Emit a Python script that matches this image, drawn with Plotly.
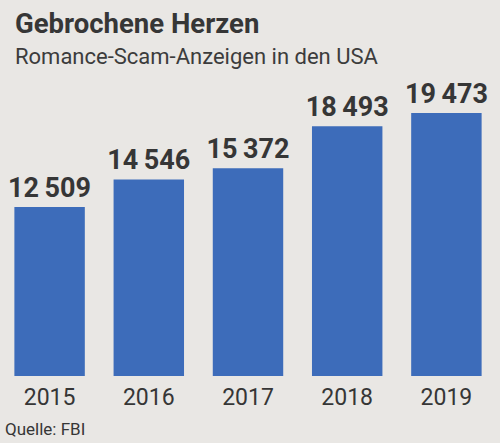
import plotly.graph_objects as go

years = ["2015", "2016", "2017", "2018", "2019"]
values = [12509, 14546, 15372, 18493, 19473]
value_labels = ["12\u2009509", "14\u2009546", "15\u2009372", "18\u2009493", "19\u2009473"]

title = "Gebrochene Herzen"
subtitle = "Romance-Scam-Anzeigen in den USA"
source = "Quelle: FBI"

bg = "#e9e7e4"
bar_color = "#3d6cba"
text_color = "#363636"

fig = go.Figure(go.Bar(
    x=years, y=values,
    marker=dict(color=bar_color, line=dict(width=0)),
    text=value_labels, textposition="outside",
    constraintext="none",
    textfont=dict(family="Roboto", size=27, color=text_color, weight="bold"),
    cliponaxis=False,
    hoverinfo="skip",
))

H_TOP, H_BOT = 100, 376
def py(p):
    return (H_BOT - p) / (H_BOT - H_TOP)

fig.update_layout(
    width=500, height=443,
    margin=dict(l=0, r=4, t=H_TOP, b=443 - H_BOT),
    paper_bgcolor=bg, plot_bgcolor=bg,
    bargap=0.29,
    showlegend=False,
    xaxis=dict(
        type="category", range=[-0.5, 4.5],
        showgrid=False, zeroline=False, showline=False, ticks="",
        tickfont=dict(family="Liberation Sans Narrow, Roboto, sans-serif", size=23, color=text_color),
        ticklabelstandoff=5,
    ),
    yaxis=dict(range=[0, 20430], visible=False),
    annotations=[
        dict(text=title, xref="paper", yref="paper", x=13 / 496, y=py(23),
             xanchor="left", yanchor="middle", showarrow=False,
             font=dict(family="Roboto", size=27.5, color=text_color, weight="bold")),
        dict(text=subtitle, xref="paper", yref="paper", x=13 / 496, y=py(57),
             xanchor="left", yanchor="middle", showarrow=False,
             font=dict(family="Roboto", size=22, color="#3c3c3c")),
        dict(text=source, xref="paper", yref="paper", x=3 / 496, y=py(429),
             xanchor="left", yanchor="middle", showarrow=False,
             font=dict(family="Liberation Sans Narrow, Roboto, sans-serif", size=17, color=text_color)),
    ],
)

fig.write_html("out.html", config={"displayModeBar": False},
               post_script="document.body.style.margin='0';")
